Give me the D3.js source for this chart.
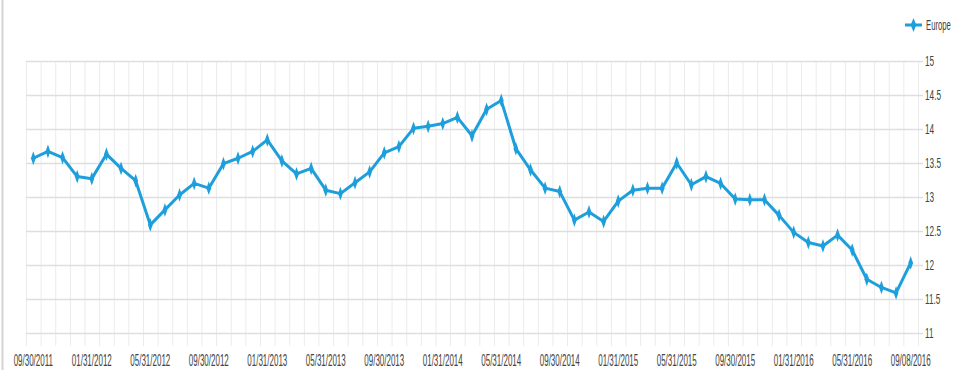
<!DOCTYPE html>
<html>
<head>
<meta charset="utf-8">
<script src="https://cdn.jsdelivr.net/npm/d3@7"></script>
<style>
  html, body { margin: 0; padding: 0; background: #fff; }
  text { font-family: "Liberation Sans", Arial, sans-serif; fill: #444; }
</style>
</head>
<body>
<div id="chart"></div>
<script>
// month-end dates (last one is a partial month)
const dates = [
    "09/30/2011", "10/31/2011", "11/30/2011", "12/31/2011",
    "01/31/2012", "02/29/2012", "03/31/2012", "04/30/2012", "05/31/2012", "06/30/2012",
    "07/31/2012", "08/31/2012", "09/30/2012", "10/31/2012", "11/30/2012", "12/31/2012",
    "01/31/2013", "02/28/2013", "03/31/2013", "04/30/2013", "05/31/2013", "06/30/2013",
    "07/31/2013", "08/31/2013", "09/30/2013", "10/31/2013", "11/30/2013", "12/31/2013",
    "01/31/2014", "02/28/2014", "03/31/2014", "04/30/2014", "05/31/2014", "06/30/2014",
    "07/31/2014", "08/31/2014", "09/30/2014", "10/31/2014", "11/30/2014", "12/31/2014",
    "01/31/2015", "02/28/2015", "03/31/2015", "04/30/2015", "05/31/2015", "06/30/2015",
    "07/31/2015", "08/31/2015", "09/30/2015", "10/31/2015", "11/30/2015", "12/31/2015",
    "01/31/2016", "02/29/2016", "03/31/2016", "04/30/2016", "05/31/2016", "06/30/2016",
    "07/31/2016", "08/31/2016", "09/08/2016"
];

const europe = [
    13.57, 13.67, 13.58, 13.30, 13.27, 13.63, 13.42, 13.24, 12.59, 12.81,
    13.03, 13.20, 13.13, 13.49, 13.57, 13.67, 13.84, 13.53, 13.34, 13.42,
    13.10, 13.05, 13.21, 13.37, 13.65, 13.74, 14.01, 14.04, 14.08, 14.17,
    13.90, 14.29, 14.42, 13.71, 13.40, 13.13, 13.08, 12.66, 12.78, 12.64,
    12.94, 13.10, 13.13, 13.13, 13.50, 13.18, 13.30, 13.20, 12.97, 12.96,
    12.96, 12.73, 12.48, 12.33, 12.28, 12.44, 12.22, 11.79, 11.67, 11.59, 12.03
];

const seriesName = "Europe";
const yTicks = [11, 11.5, 12, 12.5, 13, 13.5, 14, 14.5, 15];
// x labels every 4 months plus the last date
const xLabels = ["09/30/2011", "01/31/2012", "05/31/2012", "09/30/2012", "01/31/2013",
    "05/31/2013", "09/30/2013", "01/31/2014", "05/31/2014", "09/30/2014", "01/31/2015",
    "05/31/2015", "09/30/2015", "01/31/2016", "05/31/2016", "09/08/2016"];

const W = 960, H = 375;
const plot = { left: 26, right: 918, top: 61, bottom: 333 };
const blue = "#1e9fdb";
const squish = 0.55; // the labels are drawn very condensed

const svg = d3.select("#chart").append("svg")
    .attr("width", W)
    .attr("height", H);

// page border on the left
svg.append("line")
    .attr("x1", 2.5).attr("x2", 2.5)
    .attr("y1", 0).attr("y2", 370)
    .attr("stroke", "#d4d4d4")
    .attr("stroke-width", 2);

const x = d3.scaleBand()
    .domain(dates)
    .range([plot.left, plot.right])
    .padding(0);

const y = d3.scaleLinear()
    .domain([11, 15])
    .range([plot.bottom, plot.top]);

// vertical grid (band edges), running down past the axis as ticks
const edges = dates.map(d => x(d)).concat([plot.right]);
svg.append("g")
    .selectAll("line")
    .data(edges)
    .join("line")
    .attr("x1", d => d + 0.5).attr("x2", d => d + 0.5)
    .attr("y1", plot.top).attr("y2", plot.bottom + 13)
    .attr("stroke", "#ebebeb")
    .attr("stroke-width", 1);

// horizontal grid
svg.append("g")
    .selectAll("line")
    .data(yTicks)
    .join("line")
    .attr("x1", plot.left).attr("x2", plot.right + 5)
    .attr("y1", d => Math.round(y(d)) + 0.5).attr("y2", d => Math.round(y(d)) + 0.5)
    .attr("stroke", "#dedede")
    .attr("stroke-width", 1.5);

// y labels on the right
svg.append("g")
    .selectAll("text")
    .data(yTicks)
    .join("text")
    .attr("transform", d => `translate(925,${y(d)}) scale(${squish},1)`)
    .attr("dy", "0.35em")
    .attr("font-size", 15)
    .text(d => d);

// x labels
svg.append("g")
    .selectAll("text")
    .data(xLabels)
    .join("text")
    .attr("transform", d => `translate(${x(d) + x.bandwidth() / 2},366) scale(0.5,1)`)
    .attr("text-anchor", "middle")
    .attr("font-size", 16)
    .text(d => d);

// line
const pts = dates.map((d, i) => ({ date: d, value: europe[i] }));
const line = d3.line()
    .x(d => x(d.date) + x.bandwidth() / 2)
    .y(d => y(d.value));

svg.append("path")
    .datum(pts)
    .attr("d", line)
    .attr("fill", "none")
    .attr("stroke", blue)
    .attr("stroke-width", 3)
    .attr("stroke-linejoin", "round");

const diamond = d3.symbol().type(d3.symbolDiamond).size(55);

svg.append("g")
    .selectAll("path")
    .data(pts)
    .join("path")
    .attr("d", diamond)
    .attr("transform", d => `translate(${x(d.date) + x.bandwidth() / 2},${y(d.value)}) scale(0.6,1)`)
    .attr("fill", blue);

// legend
const legend = svg.append("g").attr("transform", "translate(905,25)");
legend.append("line")
    .attr("x1", 0).attr("x2", 17)
    .attr("stroke", blue)
    .attr("stroke-width", 3);
legend.append("path")
    .attr("d", diamond)
    .attr("transform", "translate(8.5,0) scale(0.7,1)")
    .attr("fill", blue);
legend.append("text")
    .attr("transform", `translate(21,0) scale(${squish},1)`)
    .attr("dy", "0.35em")
    .attr("font-size", 14)
    .text(seriesName);
</script>
</body>
</html>
